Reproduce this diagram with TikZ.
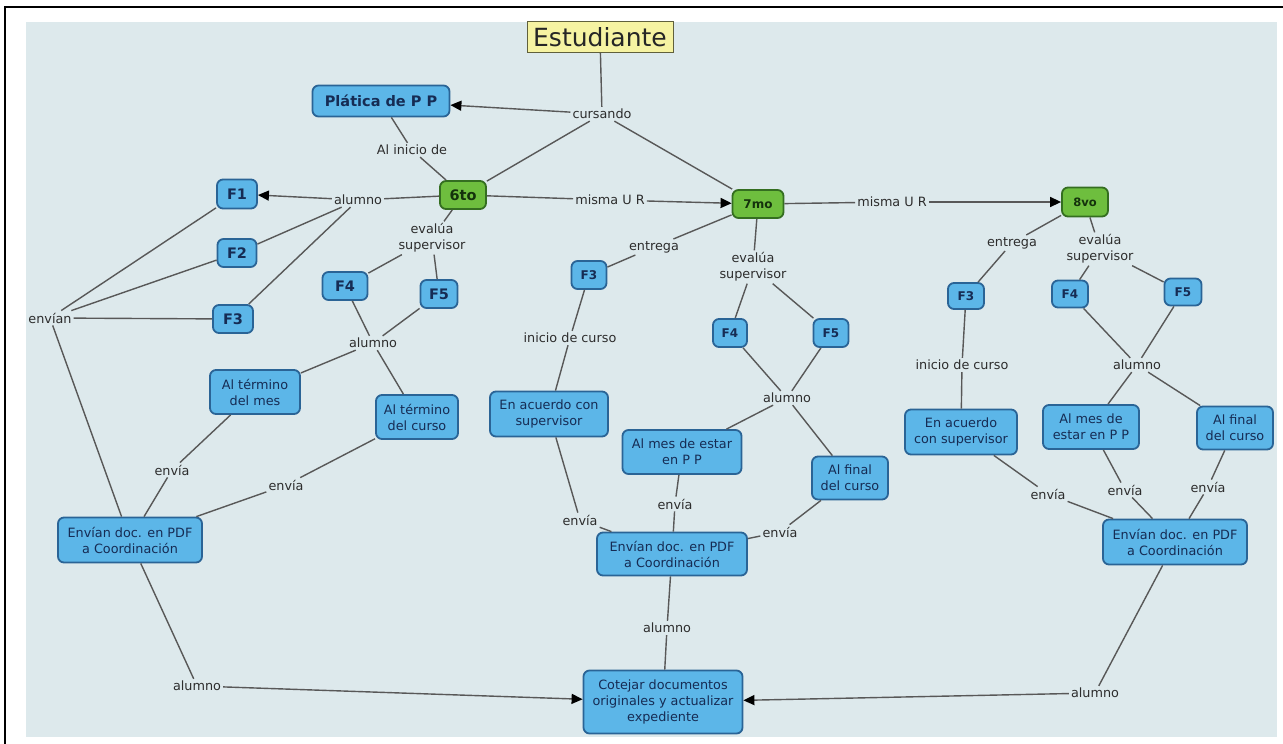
\documentclass[tikz,border=0pt]{standalone}
\usepackage{fontspec}
\setmainfont{DejaVu Sans}
\usetikzlibrary{arrows.meta}

\definecolor{bgc}{RGB}{221,233,236}
\definecolor{bfill}{RGB}{92,182,232}
\definecolor{bdraw}{RGB}{42,100,150}
\definecolor{btext}{RGB}{22,44,84}
\definecolor{gfill}{RGB}{110,190,62}
\definecolor{gdraw}{RGB}{52,110,32}
\definecolor{gtext}{RGB}{20,50,12}
\definecolor{efill}{RGB}{246,243,162}
\definecolor{edraw}{RGB}{96,96,60}
\definecolor{linec}{RGB}{88,88,88}
\definecolor{ltext}{RGB}{45,45,45}

\newcommand{\lblfont}{\fontsize{12.8}{16}\selectfont}
\newcommand{\fbig}{\fontsize{14.5}{17}\selectfont\bfseries}
\newcommand{\fsmall}{\fontsize{12}{14}\selectfont\bfseries}

\tikzset{
  lbl/.style={font=\lblfont, text=ltext, inner sep=2pt, align=center},
  cbox/.style={rounded corners=6pt, draw=bdraw, line width=1.8pt, fill=bfill,
               text=btext, align=center, font=\lblfont, inner sep=2pt},
  fbox/.style={cbox, font=\fbig},
  fsbox/.style={cbox, font=\fsmall},
  gbox/.style={rounded corners=6pt, draw=gdraw, line width=1.8pt, fill=gfill,
               text=gtext, align=center, inner sep=2pt},
  ebox/.style={draw=edraw, line width=1pt, fill=efill, text=black!85,
               font=\fontsize{25}{28}\selectfont, inner sep=2pt},
  conn/.style={draw=linec, line width=1.4pt},
  arr/.style={conn, -{Triangle[length=11pt,width=10pt,color=black]}}
}

\begin{document}
\begin{tikzpicture}[x=1pt,y=-1pt]
\useasboundingbox (0,0) rectangle (1283,744);
% frame and map background
\fill[bgc] (26,22) rectangle (1277,737);
\draw[black, line width=1.4pt] (5,744) -- (5,7) -- (1283,7);

% ---- concepts ----
\node[ebox, minimum width=146pt, minimum height=31pt] (est) at (600,37) {Estudiante};
\node[fbox, minimum width=137pt, minimum height=31pt] (plat) at (381,101) {Plática de P P};

\node[gbox, font=\fbig, minimum width=46pt, minimum height=28pt] (g6) at (463,195) {6to};
\node[gbox, font=\fsmall, minimum width=51pt, minimum height=28pt] (g7) at (758,204) {7mo};
\node[gbox, font=\fontsize{11.5}{13}\selectfont\bfseries, minimum width=46pt, minimum height=29pt] (g8) at (1085,202) {8vo};

% sixth semester
\node[fbox, minimum width=40pt, minimum height=29pt] (F1) at (237,194) {F1};
\node[fbox, minimum width=39pt, minimum height=28pt] (F2) at (237,253) {F2};
\node[fbox, minimum width=40pt, minimum height=28pt] (F3a) at (233,319) {F3};
\node[fbox, minimum width=45pt, minimum height=28pt] (F4a) at (345,286) {F4};
\node[fbox, minimum width=37pt, minimum height=28pt] (F5a) at (439,294) {F5};
\node[cbox, minimum width=90pt, minimum height=44pt] (termes) at (255,392) {Al término\\del mes};
\node[cbox, minimum width=82pt, minimum height=44pt] (tercur) at (417,417) {Al término\\del curso};
\node[cbox, minimum width=144pt, minimum height=45pt] (envA) at (130,540) {Envían doc. en PDF\\a Coordinación};

% seventh semester
\node[fsbox, minimum width=35pt, minimum height=28pt] (F3b) at (589,275) {F3};
\node[fsbox, minimum width=34pt, minimum height=28pt] (F4b) at (730,333) {F4};
\node[fsbox, minimum width=35pt, minimum height=28pt] (F5b) at (831,333) {F5};
\node[cbox, minimum width=118pt, minimum height=45pt] (acuB) at (549,414) {En acuerdo con\\supervisor};
\node[cbox, minimum width=119pt, minimum height=44pt] (mesB) at (682,452) {Al mes de estar\\en P P};
\node[cbox, minimum width=76pt, minimum height=43pt] (finB) at (850,478) {Al final\\del curso};
\node[cbox, minimum width=150pt, minimum height=43pt] (envB) at (672,554) {Envían doc. en PDF\\a Coordinación};

% eighth semester
\node[fsbox, minimum width=36pt, minimum height=26pt] (F3c) at (966,296) {F3};
\node[fsbox, minimum width=36pt, minimum height=27pt] (F4c) at (1070,294) {F4};
\node[fsbox, minimum width=37pt, minimum height=27pt] (F5c) at (1183,292) {F5};
\node[cbox, minimum width=112pt, minimum height=45pt] (acuC) at (961,432) {En acuerdo\\con supervisor};
\node[cbox, minimum width=96pt, minimum height=44pt] (mesC) at (1091,427) {Al mes de\\estar en P P};
\node[cbox, minimum width=76pt, minimum height=43pt] (finC) at (1235,428) {Al final\\del curso};
\node[cbox, minimum width=144pt, minimum height=45pt] (envC) at (1175,542) {Envían doc. en PDF\\a Coordinación};

\node[cbox, minimum width=159pt, minimum height=63pt] (cot) at (663,702) {Cotejar documentos\\originales y actualizar\\expediente};

% ---- linking phrases ----
\node[lbl] (curs) at (602,114) {cursando};
\node[lbl] (inic) at (412,150) {Al inicio de};
\node[lbl] (al1) at (358,200) {alumno};
\node[lbl] (mUR1) at (610,200) {misma U R};
\node[lbl] (mUR2) at (892,202) {misma U R};
\node[lbl] (ev6) at (432,238) {evalúa\\supervisor};
\node[lbl] (ent7) at (654,247) {entrega};
\node[lbl] (ev7) at (753,267) {evalúa\\supervisor};
\node[lbl] (ent8) at (1012,243) {entrega};
\node[lbl] (ev8) at (1100,249) {evalúa\\supervisor};
\node[lbl] (envian) at (50,318) {envían};
\node[lbl] (al2) at (373,343) {alumno};
\node[lbl] (ini7) at (570,338) {inicio de curso};
\node[lbl] (al7) at (787,398) {alumno};
\node[lbl] (ini8) at (962,365) {inicio de curso};
\node[lbl] (al8) at (1137,365) {alumno};
\node[lbl] (e1) at (172,470) {envía};
\node[lbl] (e2) at (286,485) {envía};
\node[lbl] (e7a) at (675,504) {envía};
\node[lbl] (e7b) at (580,520) {envía};
\node[lbl] (e7c) at (780,532) {envía};
\node[lbl] (e8a) at (1048,494) {envía};
\node[lbl] (e8b) at (1125,490) {envía};
\node[lbl] (e8c) at (1208,487) {envía};
\node[lbl] (al7b) at (667,628) {alumno};
\node[lbl] (alL) at (197,686) {alumno};
\node[lbl] (alR) at (1095,693) {alumno};

% ---- connectors ----
\draw[conn] (est) -- (curs);
\draw[arr] (curs) -- (plat);
\draw[conn] (curs) -- (g6);
\draw[conn] (curs) -- (g7);
\draw[conn] (plat) -- (inic);
\draw[conn] (inic) -- (g6);

\draw[conn] (g6) -- (al1);
\draw[arr] (al1) -- (F1);
\draw[conn] (al1) -- (F2);
\draw[conn] (al1) -- (F3a);
\draw[conn] (g6) -- (mUR1);
\draw[arr] (mUR1) -- (g7);
\draw[conn] (g6) -- (ev6);
\draw[conn] (ev6) -- (F4a);
\draw[conn] (ev6) -- (F5a);
\draw[conn] (F4a) -- (al2);
\draw[conn] (F5a) -- (al2);
\draw[conn] (al2) -- (termes);
\draw[conn] (al2) -- (tercur);
\draw[conn] (termes) -- (e1);
\draw[conn] (e1) -- (envA);
\draw[conn] (tercur) -- (e2);
\draw[conn] (e2) -- (envA);
\draw[conn] (F1) -- (envian);
\draw[conn] (F2) -- (envian);
\draw[conn] (F3a) -- (envian);
\draw[conn] (envian) -- (envA);
\draw[conn] (envA) -- (alL);
\draw[arr] (alL) -- (cot);

\draw[conn] (g7) -- (mUR2);
\draw[arr] (mUR2) -- (g8);
\draw[conn] (g7) -- (ent7);
\draw[conn] (ent7) -- (F3b);
\draw[conn] (g7) -- (ev7);
\draw[conn] (ev7) -- (F4b);
\draw[conn] (ev7) -- (F5b);
\draw[conn] (F3b) -- (ini7);
\draw[conn] (ini7) -- (acuB);
\draw[conn] (F4b) -- (al7);
\draw[conn] (F5b) -- (al7);
\draw[conn] (al7) -- (mesB);
\draw[conn] (al7) -- (finB);
\draw[conn] (acuB) -- (e7b);
\draw[conn] (e7b) -- (envB);
\draw[conn] (mesB) -- (e7a);
\draw[conn] (e7a) -- (envB);
\draw[conn] (finB) -- (e7c);
\draw[conn] (e7c) -- (envB);
\draw[conn] (envB) -- (al7b);
\draw[conn] (al7b) -- (cot);

\draw[conn] (g8) -- (ent8);
\draw[conn] (ent8) -- (F3c);
\draw[conn] (g8) -- (ev8);
\draw[conn] (ev8) -- (F4c);
\draw[conn] (ev8) -- (F5c);
\draw[conn] (F3c) -- (ini8);
\draw[conn] (ini8) -- (acuC);
\draw[conn] (F4c) -- (al8);
\draw[conn] (F5c) -- (al8);
\draw[conn] (al8) -- (mesC);
\draw[conn] (al8) -- (finC);
\draw[conn] (acuC) -- (e8a);
\draw[conn] (e8a) -- (envC);
\draw[conn] (mesC) -- (e8b);
\draw[conn] (e8b) -- (envC);
\draw[conn] (finC) -- (e8c);
\draw[conn] (e8c) -- (envC);
\draw[conn] (envC) -- (alR);
\draw[arr] (alR) -- (cot);
\end{tikzpicture}
\end{document}
